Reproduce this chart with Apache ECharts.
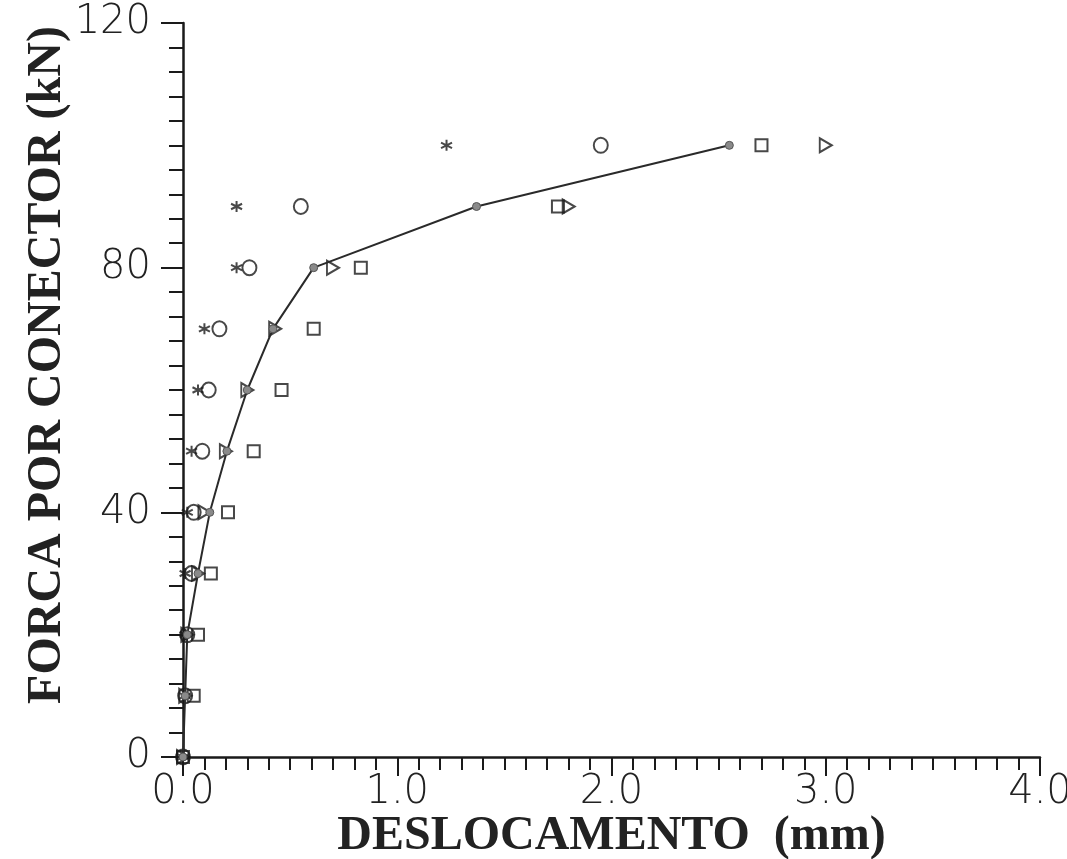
<!DOCTYPE html>
<html>
<head>
<meta charset="utf-8">
<script src="https://cdn.jsdelivr.net/npm/echarts@6/dist/echarts.min.js"></script>
<style>
  html, body { margin: 0; padding: 0; background: #fff; }
  #chart { width: 1067px; height: 859px; }
</style>
</head>
<body>
<div id="chart"></div>
<script>
// Force levels per connector (kN)
const forceLevels = [0, 10, 20, 30, 40, 50, 60, 70, 80, 90, 100];

// Slip (mm) measured at each force level, one array per specimen
const slipAsterisk = [0, 0.01, 0.01, 0.01, 0.02, 0.04, 0.07, 0.10, 0.25, 0.25, 1.23];
const slipCircle   = [0, 0.01, 0.02, 0.04, 0.05, 0.09, 0.12, 0.17, 0.31, 0.55, 1.95];
const slipSquare   = [0, 0.05, 0.07, 0.13, 0.21, 0.33, 0.46, 0.61, 0.83, 1.75, 2.70];
const slipTriangle = [0, 0.01, 0.02, 0.07, 0.10, 0.20, 0.30, 0.43, 0.70, 1.80, 3.00];
// Mean curve
const slipMean     = [0, 0.01, 0.02, 0.07, 0.125, 0.205, 0.30, 0.42, 0.61, 1.37, 2.55];

// Axis texts
const xTitle = 'DESLOCAMENTO  (mm)';
const yTitle = 'FORCA POR CONECTOR (kN)';

const pairs = (xs) => xs.map((x, i) => [x, forceLevels[i]]);

const ink = '#1a1a1a';
const openStyle = { color: 'rgba(0,0,0,0)', borderColor: ink, borderWidth: 2 };
const asteriskPath = 'path://M0,-10L0,10M-8.66,-5L8.66,5M-8.66,5L8.66,-5';

const chart = echarts.init(document.getElementById('chart'), null, { renderer: 'canvas' });

const tickFont = { fontFamily: 'DejaVu Sans', fontWeight: 200, fontSize: 40, color: '#222' };
const titleFont = { fontFamily: 'Liberation Serif', fontWeight: 'bold', fontSize: 48, color: '#222' };

chart.setOption({
  animation: false,
  backgroundColor: '#fff',
  grid: { left: 183, right: 27, top: 23, bottom: 102, containLabel: false, outerBoundsMode: 'none' },
  xAxis: {
    type: 'value', min: 0, max: 4, interval: 1,
    axisLine: { show: true, onZero: false, lineStyle: { color: ink, width: 2.5 } },
    axisTick: { show: true, inside: false, length: 19, lineStyle: { color: ink, width: 2 } },
    minorTick: { show: true, splitNumber: 10, length: 13, lineStyle: { color: ink, width: 2 } },
    splitLine: { show: false }, minorSplitLine: { show: false },
    axisLabel: Object.assign({ margin: 16, formatter: (v) => v.toFixed(1) }, tickFont),
    name: xTitle, nameLocation: 'middle', nameGap: 56, nameMoveOverlap: false,
    nameTextStyle: titleFont
  },
  yAxis: {
    type: 'value', min: 0, max: 120, interval: 40,
    axisLine: { show: true, onZero: false, lineStyle: { color: ink, width: 2.5 } },
    axisTick: { show: true, inside: false, length: 22, lineStyle: { color: ink, width: 2 } },
    minorTick: { show: true, splitNumber: 10, length: 14, lineStyle: { color: ink, width: 2 } },
    splitLine: { show: false }, minorSplitLine: { show: false },
    axisLabel: Object.assign({ margin: 32 }, tickFont),
    name: yTitle, nameLocation: 'middle', nameGap: 111, nameMoveOverlap: false,
    nameTextStyle: Object.assign({ padding: [0, 0, 0, 50] }, titleFont)
  },
  series: [
    {
      name: 'Curva média', type: 'line', data: pairs(slipMean),
      symbol: 'circle', symbolSize: 8,
      lineStyle: { color: '#2a2a2a', width: 2 },
      itemStyle: { color: '#8a8a8a', borderColor: '#555', borderWidth: 1 },
      z: 3
    },
    {
      name: 'Ensaio 1', type: 'scatter', data: pairs(slipAsterisk),
      symbol: asteriskPath, symbolSize: 11,
      itemStyle: { color: 'rgba(0,0,0,0)', borderColor: ink, borderWidth: 2 }
    },
    {
      name: 'Ensaio 2', type: 'scatter', data: pairs(slipCircle),
      symbol: 'circle', symbolSize: [14, 15], itemStyle: openStyle
    },
    {
      name: 'Ensaio 3', type: 'scatter', data: pairs(slipSquare),
      symbol: 'rect', symbolSize: [12, 12], itemStyle: openStyle
    },
    {
      name: 'Ensaio 4', type: 'scatter', data: pairs(slipTriangle),
      symbol: 'triangle', symbolRotate: -90, symbolSize: [14, 12], itemStyle: openStyle
    }
  ]
});
</script>
</body>
</html>
